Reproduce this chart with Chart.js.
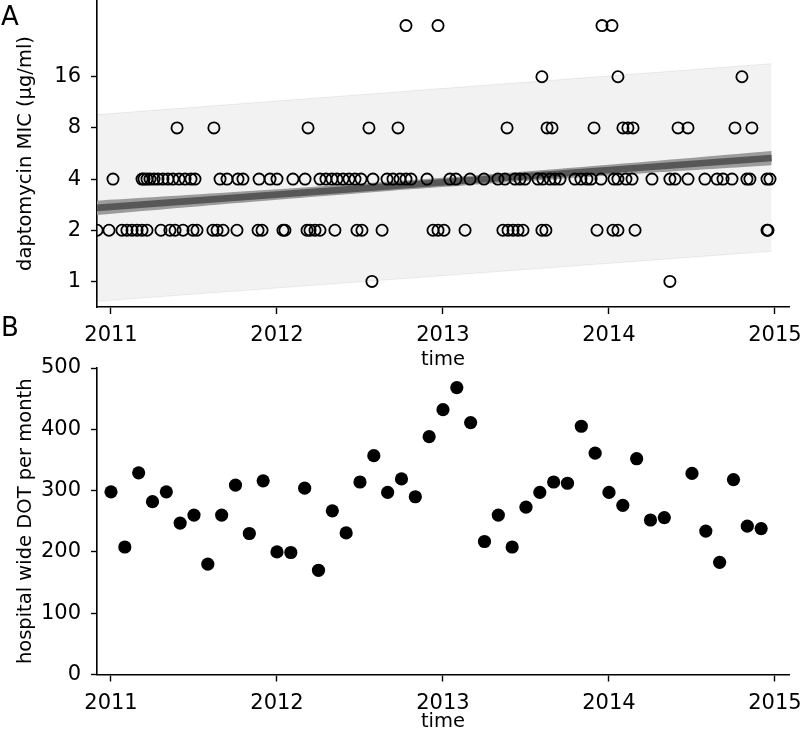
<!DOCTYPE html>
<html>
<head>
<meta charset="utf-8">
<script src="https://cdn.jsdelivr.net/npm/chart.js@4.4.0/dist/chart.umd.min.js"></script>
<style>
  body { margin: 0; background: #fff; width: 800px; height: 734px; position: relative; overflow: hidden; font-family: "DejaVu Sans", sans-serif; }
  #top { position: absolute; left: 0; top: 0; }
  #bottom { position: absolute; left: 0; top: 340px; }
  .panel { position: absolute; font-size: 26px; color: #000; line-height: 1; }
</style>
</head>
<body>
<canvas id="top" width="800" height="372"></canvas>
<canvas id="bottom" width="800" height="394"></canvas>
<div class="panel" style="left:1px;top:3px">A</div>
<div class="panel" style="left:1px;top:314px">B</div>
<script>
// tick labels
const yearTicks = [2011, 2012, 2013, 2014, 2015];
const micTicks = [1, 2, 4, 8, 16];
const dotTicks = [0, 100, 200, 300, 400, 500];

// isolate dates (decimal year) per MIC value
const mic1 = [2012.572, 2014.367];
const mic2 = [2010.916, 2010.988, 2011.066, 2011.096, 2011.127, 2011.157, 2011.187, 2011.217, 2011.301, 2011.355,
  2011.386, 2011.434, 2011.494, 2011.518, 2011.614, 2011.639, 2011.675, 2011.759, 2011.886, 2011.910, 2012.036,
  2012.048, 2012.181, 2012.199, 2012.229, 2012.259, 2012.349, 2012.482, 2012.512, 2012.633, 2012.940, 2012.970,
  2013.006, 2013.133, 2013.361, 2013.392, 2013.422, 2013.452, 2013.482, 2013.596, 2013.620, 2013.928, 2014.024,
  2014.054, 2014.157, 2014.952, 2014.958];
const mic4 = [2011.012, 2011.187, 2011.199, 2011.217, 2011.235, 2011.259, 2011.283, 2011.313, 2011.343, 2011.373,
  2011.410, 2011.446, 2011.482, 2011.506, 2011.657, 2011.699, 2011.765, 2011.795, 2011.892, 2011.958, 2012.000,
  2012.096, 2012.169, 2012.259, 2012.295, 2012.331, 2012.361, 2012.398, 2012.434, 2012.470, 2012.506, 2012.578,
  2012.663, 2012.699, 2012.741, 2012.777, 2012.807, 2012.904, 2013.042, 2013.078, 2013.163, 2013.247, 2013.331,
  2013.373, 2013.434, 2013.464, 2013.494, 2013.572, 2013.602, 2013.645, 2013.675, 2013.705, 2013.795, 2013.831,
  2013.867, 2013.892, 2013.952, 2014.030, 2014.054, 2014.102, 2014.139, 2014.259, 2014.367, 2014.398, 2014.476,
  2014.578, 2014.651, 2014.687, 2014.741, 2014.831, 2014.849, 2014.952, 2014.970];
const mic8 = [2011.398, 2011.620, 2012.187, 2012.554, 2012.729, 2013.386, 2013.627, 2013.657, 2013.910, 2014.084,
  2014.114, 2014.145, 2014.416, 2014.476, 2014.759, 2014.861];
const mic16 = [2013.596, 2014.054, 2014.801];
const mic32 = [2012.777, 2012.970, 2013.958, 2014.018];

// regression on log2(MIC): fit line, confidence band, prediction band
const fitX = [2010.915, 2014.98];
const fitLog2 = [1.437, 2.41];
const piUpper = [3.26, 4.255];
const piLower = [-0.39, 0.59];
const ciX = [2010.915, 2011.93, 2012.95, 2013.96, 2014.98];
const ciUpper = [1.577, 1.785, 2.014, 2.271, 2.55];
const ciLower = [1.297, 1.575, 1.834, 2.061, 2.27];

// hospital wide days of therapy per month
const dotMonths = ['2011-01', '2011-02', '2011-03', '2011-04', '2011-05', '2011-06', '2011-07', '2011-08', '2011-09',
  '2011-10', '2011-11', '2011-12', '2012-01', '2012-02', '2012-03', '2012-04', '2012-05', '2012-06', '2012-07',
  '2012-08', '2012-09', '2012-10', '2012-11', '2012-12', '2013-01', '2013-02', '2013-03', '2013-04', '2013-05',
  '2013-06', '2013-07', '2013-08', '2013-09', '2013-10', '2013-11', '2013-12', '2014-01', '2014-02', '2014-03',
  '2014-04', '2014-05', '2014-07', '2014-08', '2014-09', '2014-10', '2014-11', '2014-12'];
const dotValues = [298, 208, 329, 282, 298, 247, 260, 180, 260, 309, 230, 316,
  200, 199, 304, 170, 267, 231, 314, 357, 297, 319, 290, 388,
  432, 468, 411, 217, 260, 208, 273, 297, 314, 312, 405, 361,
  297, 276, 352, 252, 256, 328, 234, 183, 318, 242, 238];

Chart.defaults.font.family = '"DejaVu Sans", sans-serif';
Chart.defaults.font.size = 19;
Chart.defaults.color = '#000';

const pts = (xs, ys) => xs.map((x, i) => ({ x: x, y: ys[i] }));
const isolates = [[1, mic1], [2, mic2], [4, mic4], [8, mic8], [16, mic16], [32, mic32]]
  .flatMap(([mic, dates]) => dates.map(d => ({ x: d, y: Math.log2(mic) })));
const monthToYear = s => { const [y, m] = s.split('-').map(Number); return y + (m - 1) / 12; };

const xMin = 2010.9157, xMax = 2015.0845;
const tickFont = { size: 21 };
const titleFont = { size: 19.5 };

function xAxis(height) {
  return {
    type: 'linear', min: xMin, max: xMax,
    afterBuildTicks: s => { s.ticks = yearTicks.map(v => ({ value: v })); },
    afterFit: s => { s.height = height; s.paddingLeft = 0; s.paddingRight = 0; },
    ticks: { callback: v => String(v), padding: 9, maxRotation: 0, autoSkip: false, font: tickFont },
    grid: { drawOnChartArea: false, tickLength: 7, tickWidth: 1.4, tickColor: '#000' },
    border: { display: true, color: '#000', width: 1.6 },
    title: { display: true, text: 'time', font: titleFont, padding: { top: 0, bottom: 0 } }
  };
}

function yAxis(min, max, ticks, label, title) {
  return {
    type: 'linear', min: min, max: max,
    afterBuildTicks: s => { s.ticks = ticks.map(v => ({ value: v })); },
    afterFit: s => { s.width = 97; s.paddingTop = 0; s.paddingBottom = 0; },
    ticks: { callback: label, padding: 10, font: tickFont },
    grid: { drawOnChartArea: false, tickLength: 6, tickWidth: 1.4, tickColor: '#000' },
    border: { display: true, color: '#000', width: 1.6 },
    title: { display: true, text: title, font: titleFont, padding: { top: 14, bottom: 0 } }
  };
}

new Chart(document.getElementById('top'), {
  type: 'scatter',
  data: {
    datasets: [
      { data: pts(fitX, piUpper), showLine: true, pointRadius: 0, borderWidth: 1, borderColor: 'rgba(0,0,0,0.07)',
        backgroundColor: 'rgba(0,0,0,0.05)', fill: '+1', order: 4 },
      { data: pts(fitX, piLower), showLine: true, pointRadius: 0, borderWidth: 1, borderColor: 'rgba(0,0,0,0.07)',
        fill: false, order: 4 },
      { data: pts(ciX, ciUpper), showLine: true, pointRadius: 0, borderWidth: 0, borderColor: 'rgba(0,0,0,0)',
        backgroundColor: '#9c9c9c', fill: '+1', tension: 0.4, order: 3 },
      { data: pts(ciX, ciLower), showLine: true, pointRadius: 0, borderWidth: 0, borderColor: 'rgba(0,0,0,0)',
        fill: false, tension: 0.4, order: 3 },
      { data: pts(fitX, fitLog2), showLine: true, pointRadius: 0, borderWidth: 6.5, borderColor: '#575757',
        fill: false, order: 2 },
      { data: isolates, pointRadius: 5.6, borderWidth: 1.8, borderColor: '#000', backgroundColor: 'rgba(0,0,0,0)',
        order: 0 }
    ]
  },
  options: {
    responsive: false, animation: false,
    layout: { autoPadding: false, padding: { left: 0, right: 11, top: 0, bottom: 0 } },
    plugins: { legend: { display: false }, tooltip: { enabled: false } },
    scales: {
      x: xAxis(65),
      y: yAxis(-0.5, 5.5, micTicks.map(Math.log2), v => String(Math.round(Math.pow(2, v))), 'daptomycin MIC (μg/ml)')
    }
  }
});

new Chart(document.getElementById('bottom'), {
  type: 'scatter',
  data: {
    datasets: [
      { data: pts(dotMonths.map(monthToYear), dotValues), pointRadius: 6.6, borderWidth: 0, backgroundColor: '#000' }
    ]
  },
  options: {
    responsive: false, animation: false,
    layout: { autoPadding: false, padding: { left: 0, right: 11, top: 28, bottom: 0 } },
    plugins: { legend: { display: false }, tooltip: { enabled: false } },
    scales: {
      x: xAxis(59.5),
      y: yAxis(0, 500, dotTicks, v => String(v), 'hospital wide DOT per month')
    }
  }
});
</script>
</body>
</html>
